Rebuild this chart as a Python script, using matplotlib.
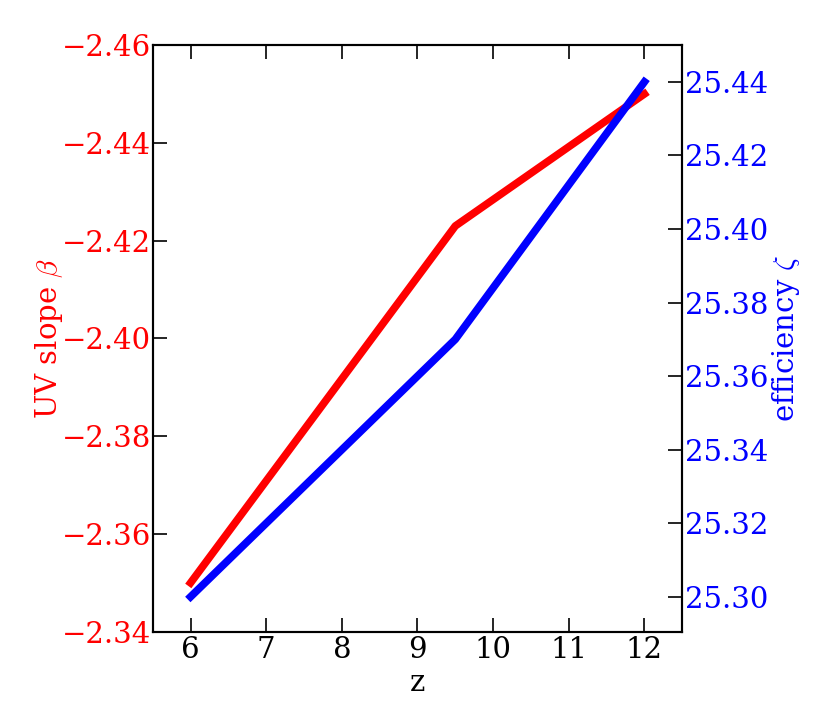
import matplotlib
matplotlib.use("Agg")
import matplotlib.pyplot as plt

# data
z = [6, 9.5, 12]
beta = [-2.35, -2.423, -2.450]
zeta = [25.30, 25.37, 25.44]
zticks = [6, 7, 8, 9, 10, 11, 12]

plt.rcParams["font.family"] = "DejaVu Serif"
plt.rcParams["mathtext.fontset"] = "cm"
plt.rcParams["font.size"] = 21

fig = plt.figure(figsize=(8.3, 7.27), dpi=100)
ax = fig.add_axes([0.184, 0.131, 0.638, 0.807])
ax2 = ax.twinx()

ax.plot(z, beta, color="red", lw=5.5)
ax2.plot(z, zeta, color="blue", lw=5.5)

ax.set_xlim(5.5, 12.5)
ax.set_xticks(zticks)
ax.set_ylim(-2.34, -2.46)
ax.set_yticks([-2.34, -2.36, -2.38, -2.40, -2.42, -2.44, -2.46])
ax2.set_ylim(25.2905, 25.45)
ax2.set_yticks([25.30, 25.32, 25.34, 25.36, 25.38, 25.40, 25.42, 25.44])

ax.set_xlabel("z", labelpad=4)
ax.set_ylabel(r"UV slope $\beta$", color="red", labelpad=-2)
ax2.set_ylabel(r"efficiency $\zeta$", color="blue", labelpad=1)

ax.tick_params(axis="x", direction="in", top=True, length=10, width=1.2, pad=3)
ax.tick_params(axis="y", direction="in", length=10, width=1.2, colors="black", labelcolor="red", pad=1)
ax2.tick_params(axis="y", direction="in", length=10, width=1.2, labelcolor="blue", pad=2)

for a in (ax, ax2):
    for s in a.spines.values():
        s.set_linewidth(1.5)

fig.savefig("out.png", dpi=100)
